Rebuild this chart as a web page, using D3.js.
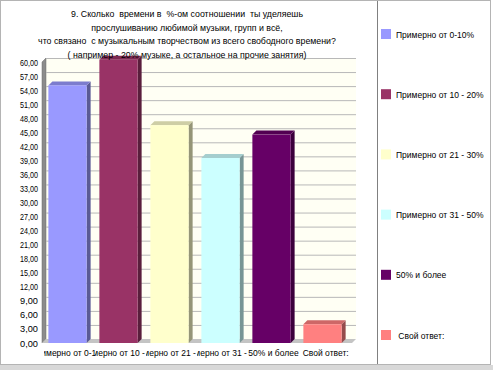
<!DOCTYPE html>
<html>
<head>
<meta charset="utf-8">
<script src="https://cdn.jsdelivr.net/npm/d3@7"></script>
<style>
  body { margin: 0; background: #fff; }
  text { font-family: "Liberation Sans", Arial, sans-serif; white-space: pre; }
</style>
</head>
<body>
<div id="chart"></div>
<script>
(function () {

	'use strict';

	var categories = ['Примерно от 0-10%', 'Примерно от 10 - 20%', 'Примерно от 21 - 30%',
		'Примерно от 31 - 50%', '50% и более', ' Свой ответ:'];
	var values = [55, 60.5, 46.5, 39.5, 44.5, 4];
	var colors = ['#9999ff', '#993366', '#ffffcc', '#ccffff', '#660066', '#ff8080'];
	var yTicks = d3.range(0, 61, 3);
	var titleLines = [
		'9. Сколько  времени в  %-ом соотношении  ты уделяешь',
		'прослушиванию любимой музыки, групп и всё,',
		'что связано  с музыкальным творчеством из всего свободного времени?',
		'( например - 20% музыке, а остальное на прочие занятия)'
	];

	var width = 493, height = 370;
	var depth = 4;

	var svg = d3.select('#chart')
		.append('svg')
		.attr('width', width)
		.attr('height', height);

	// frame
	svg.append('rect')
		.attr('x', 0).attr('y', 365).attr('width', width).attr('height', 5)
		.attr('fill', '#d8d8d8');
	svg.append('rect')
		.attr('x', 0.5).attr('y', 0.5).attr('width', 490).attr('height', 364)
		.attr('fill', '#fff').attr('stroke', '#b4b4b4');
	svg.append('line')
		.attr('x1', 377.5).attr('x2', 377.5).attr('y1', 1).attr('y2', 364)
		.attr('stroke', '#808080');

	var x = d3.scaleBand()
		.domain(categories)
		.range([42, 348])
		.paddingInner(0.25)
		.paddingOuter(0.125);

	var y = d3.scaleLinear()
		.domain([0, 60])
		.range([343, 62]);

	var x0 = x.range()[0], x1 = x.range()[1];

	// walls and floor
	svg.append('rect')
		.attr('x', x0 + depth).attr('y', y(60) - depth)
		.attr('width', x1 - x0 + 4).attr('height', y(0) - y(60))
		.attr('fill', '#fffff4');

	svg.append('polygon')
		.attr('points', [[x0, y(0)], [x0, y(60)], [x0 + depth, y(60) - depth], [x0 + depth, y(0) - depth]].join(' '))
		.attr('fill', '#8c8c8c')
		.attr('stroke', '#6a6a6a')
		.attr('stroke-width', 0.5);

	svg.append('polygon')
		.attr('points', [[x0, y(0)], [x1 + 4, y(0)], [x1 + 4 + depth, y(0) - depth], [x0 + depth, y(0) - depth]].join(' '))
		.attr('fill', '#c4c4c4');

	svg.selectAll('line.grid')
		.data(yTicks.filter(function (d) { return d > 0; }))
		.enter().append('line')
		.attr('class', 'grid')
		.attr('x1', x0 + depth).attr('x2', x1 + 4 + depth)
		.attr('y1', function (d) { return y(d) - depth + 0.5; })
		.attr('y2', function (d) { return y(d) - depth + 0.5; })
		.attr('stroke', '#b8b8b8');

	// y axis
	var yAxis = svg.append('g')
		.attr('transform', 'translate(' + x0 + ',0)')
		.call(d3.axisLeft(y)
			.tickValues(yTicks)
			.tickSize(0)
			.tickPadding(4)
			.tickFormat(function (d) { return d.toFixed(2).replace('.', ','); }));
	yAxis.select('.domain').remove();
	yAxis.selectAll('text')
		.attr('font-size', 9.5)
		.attr('fill', '#000')
		.attr('textLength', 18)
		.attr('lengthAdjust', 'spacingAndGlyphs')
		.style('font-family', '"Liberation Sans", Arial, sans-serif');

	// bars
	var bars = svg.selectAll('g.bar')
		.data(categories)
		.enter().append('g')
		.attr('class', 'bar');

	bars.append('polygon')
		.attr('points', function (d, i) {
			var bx = x(d) + x.bandwidth(), top = y(values[i]), bottom = y(0);
			return [[bx, bottom], [bx, top], [bx + depth, top - depth], [bx + depth, bottom - depth]].join(' ');
		})
		.attr('fill', function (d, i) { return d3.color(colors[i]).darker(1.5); });

	bars.append('polygon')
		.attr('points', function (d, i) {
			var bx = x(d), top = y(values[i]), w = x.bandwidth();
			return [[bx, top], [bx + w, top], [bx + w + depth, top - depth], [bx + depth, top - depth]].join(' ');
		})
		.attr('fill', function (d, i) { return d3.color(colors[i]).darker(0.6); });

	bars.append('rect')
		.attr('x', function (d) { return x(d); })
		.attr('y', function (d, i) { return y(values[i]); })
		.attr('width', x.bandwidth())
		.attr('height', function (d, i) { return y(0) - y(values[i]); })
		.attr('fill', function (d, i) { return colors[i]; });

	// category labels, clipped to their slot
	var step = x.step();
	var defs = svg.append('defs');
	categories.forEach(function (d, i) {
		defs.append('clipPath')
			.attr('id', 'clip' + i)
			.append('rect')
			.attr('x', x(d) + x.bandwidth() / 2 - step / 2 + 2)
			.attr('y', 340)
			.attr('width', step)
			.attr('height', 20);
	});

	svg.selectAll('text.cat')
		.data(categories)
		.enter().append('text')
		.attr('class', 'cat')
		.attr('clip-path', function (d, i) { return 'url(#clip' + i + ')'; })
		.attr('x', function (d) { return x(d) + x.bandwidth() / 2 + 2; })
		.attr('y', 356)
		.attr('text-anchor', 'middle')
		.attr('font-size', 8.5)
		.text(function (d) { return d; });

	// title
	svg.selectAll('text.title')
		.data(titleLines)
		.enter().append('text')
		.attr('class', 'title')
		.attr('x', 187)
		.attr('y', function (d, i) { return 17 + i * 13.5; })
		.attr('text-anchor', 'middle')
		.attr('font-size', 8.8)
		.text(function (d) { return d; });

	// legend
	var legend = svg.selectAll('g.legend')
		.data(categories)
		.enter().append('g')
		.attr('class', 'legend')
		.attr('transform', function (d, i) { return 'translate(381,' + (34 + i * 60.2) + ')'; });

	legend.append('rect')
		.attr('x', 0).attr('y', -5)
		.attr('width', 10).attr('height', 10)
		.attr('fill', function (d, i) { return colors[i]; });

	legend.append('text')
		.attr('x', 15)
		.attr('y', 3.5)
		.attr('font-size', 8.5)
		.text(function (d) { return d; });

})();
</script>
</body>
</html>
